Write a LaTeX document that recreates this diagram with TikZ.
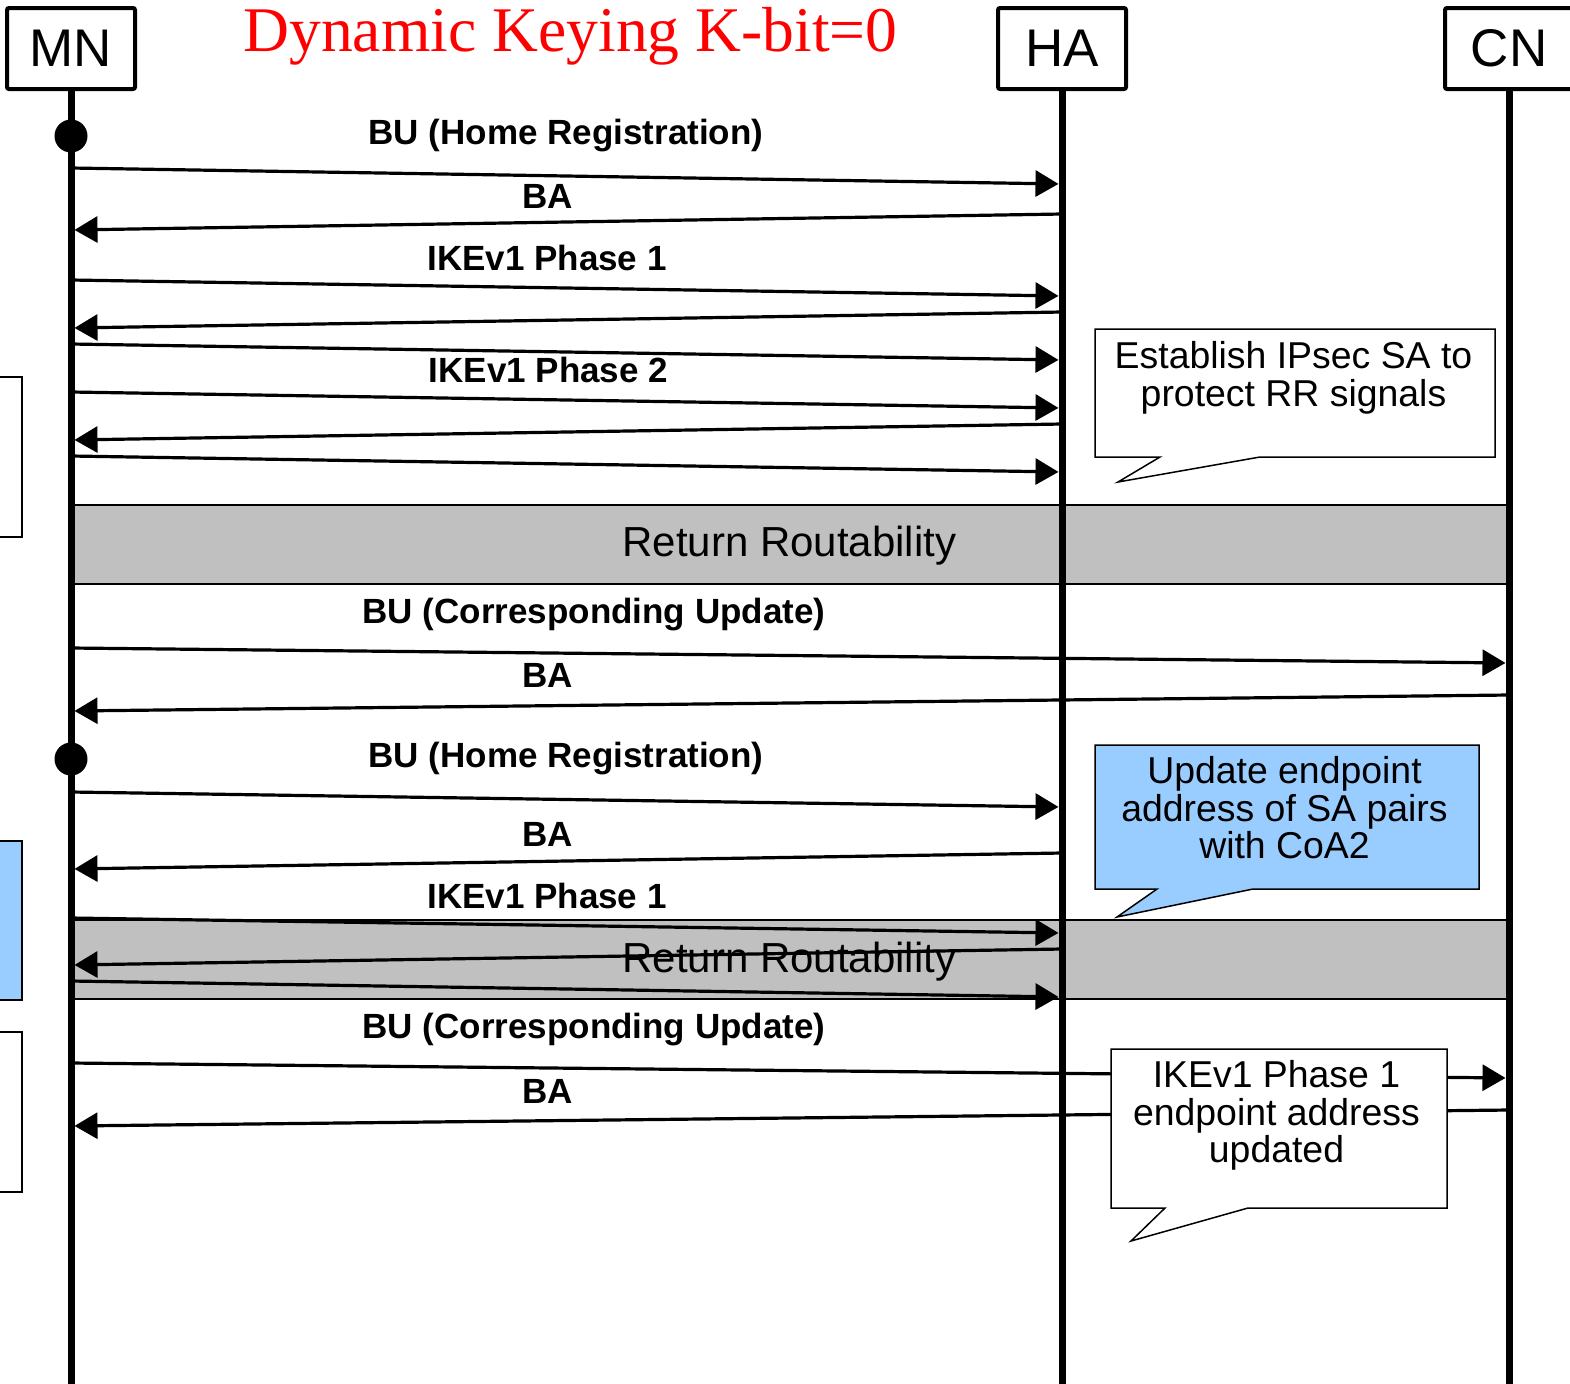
\documentclass[tikz,border=0pt]{standalone}
\usepackage{fontspec}
\setmainfont{Liberation Serif}
\setsansfont{Liberation Sans}
\usetikzlibrary{arrows.meta}
\definecolor{rrgray}{RGB}{192,192,192}
\definecolor{noteblue}{RGB}{153,204,255}
\begin{document}
\begin{tikzpicture}[x=0.5pt,y=-0.5pt,
  actor/.style={draw,line width=2pt,rounded corners=1pt,minimum width=64pt,minimum height=40.5pt,inner sep=0pt,font=\sffamily\fontsize{26.5}{26.5}\selectfont},
  life/.style={line width=3.5pt},
  msg/.style={line width=1.6pt,shorten >=1.75pt,-{Triangle[length=11.5pt,width=13pt]}},
  lbl/.style={anchor=base,font=\sffamily\bfseries\fontsize{17.5}{17.5}\selectfont},
  band/.style={draw,line width=0.8pt,fill=rrgray},
  bandtxt/.style={anchor=base,font=\sffamily\fontsize{21}{21}\selectfont},
  note/.style={draw,line width=0.75pt,fill=white},
  notetxt/.style={anchor=north,inner sep=0pt,align=center,font=\sffamily\fontsize{18.7}{18.75}\selectfont},
  regdot/.style={circle,fill,inner sep=0pt,minimum size=16.5pt}]
\useasboundingbox (0,0) rectangle (1570,1383);
\node[anchor=base,text=red,font=\fontsize{31.8}{31.8}\selectfont] (title) at (570.5,51) {Dynamic Keying K-bit=0};
\node[actor] (mn) at (71,48.5) {MN};
\node[actor] (ha) at (1062,48.5) {HA};
\node[actor] (cn) at (1509,48.5) {CN};
\draw[note] (-10,377) rectangle (22,537);
\draw[note,fill=noteblue] (-10,841) rectangle (22,1000);
\draw[note] (-10,1032) rectangle (22,1192);
\draw[band] (71,505) rectangle (1509,584);
\draw[band] (71,920) rectangle (1509,999);
\node[bandtxt] (rr1) at (789.5,556) {Return Routability};
\node[bandtxt] (rr2) at (789.5,972) {Return Routability};
\foreach \a in {mn,ha,cn}
  \draw[life] (\a.south) -- (\a |- 0,1390);
\node[regdot] (reg1) at (mn |- 0,136) {};
\node[regdot] (reg2) at (mn |- 0,759) {};
\node[lbl] (bu1) at (566,144) {BU (Home Registration)};
\node[lbl] (ba1) at (547.5,208) {BA};
\node[lbl] (ike1) at (547,270) {IKEv1 Phase 1};
\node[lbl] (ike2) at (548.5,382) {IKEv1 Phase 2};
\node[lbl] (cu1) at (594,623) {BU (Corresponding Update)};
\node[lbl] (ba2) at (547.5,687) {BA};
\node[lbl] (bu2) at (566,767) {BU (Home Registration)};
\node[lbl] (ba3) at (547.5,846) {BA};
\node[lbl] (ike3) at (547,908) {IKEv1 Phase 1};
\node[lbl] (cu2) at (594,1038) {BU (Corresponding Update)};
\node[lbl] (ba4) at (547.5,1103) {BA};
\foreach \ya/\yb in {168/184,280/296,344/360,392/408,456/472,792/807,918/933,981/997}
  \draw[msg] (mn |- 0,\ya) -- (ha |- 0,\yb);
\foreach \ya/\yb in {214/230,312/328,424/440,853/869,949/965}
  \draw[msg] (ha |- 0,\ya) -- (mn |- 0,\yb);
\foreach \ya/\yb in {648/663,1063/1078}
  \draw[msg] (mn |- 0,\ya) -- (cn |- 0,\yb);
\foreach \ya/\yb in {695/711,1110/1126}
  \draw[msg] (cn |- 0,\ya) -- (mn |- 0,\yb);
\draw[note] (1095,329) -- (1495,329) -- (1495,457) -- (1260,457) -- (1118,482) -- (1160,457) -- (1095,457) -- cycle;
\node[notetxt] (sa) at (1293.5,341) {Establish IPsec SA to\\protect RR signals};
\draw[note,fill=noteblue] (1095,745) -- (1479,745) -- (1479,889) -- (1253,889) -- (1117,917) -- (1157,889) -- (1095,889) -- cycle;
\node[notetxt] (upd) at (1284.5,756) {Update endpoint\\address of SA pairs\\with CoA2};
\draw[note] (1111,1049) -- (1447,1049) -- (1447,1208) -- (1248,1208) -- (1131,1241) -- (1165,1208) -- (1111,1208) -- cycle;
\node[notetxt] (ep) at (1276.5,1060) {IKEv1 Phase 1\\endpoint address\\updated};
\end{tikzpicture}
\end{document}
